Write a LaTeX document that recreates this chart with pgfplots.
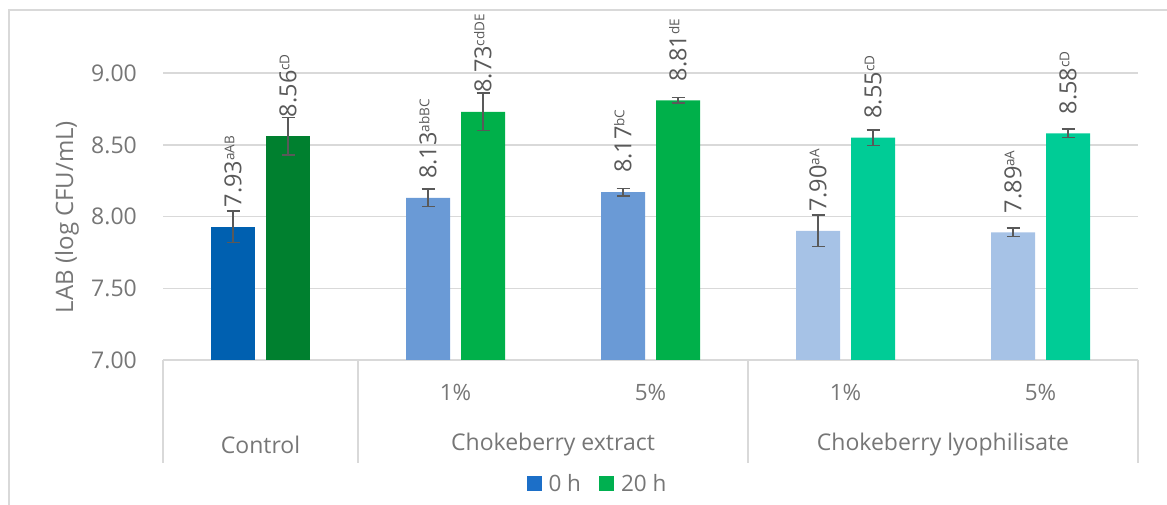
\documentclass[border=0pt]{standalone}
\usepackage{fontspec}
\setmainfont{Open Sans}
\usepackage{pgfplots}
\usepackage{pgfplotstable}
\pgfplotsset{compat=1.18}
\definecolor{cA0}{HTML}{0060B0}
\definecolor{cA2}{HTML}{00802F}
\definecolor{cB0}{HTML}{6A9AD6}
\definecolor{cB2}{HTML}{00B04A}
\definecolor{cC0}{HTML}{A6C2E6}
\definecolor{cC2}{HTML}{00CC96}
\definecolor{leg0}{HTML}{1C6FC8}
\definecolor{leg2}{HTML}{00B050}
\definecolor{gridgray}{HTML}{D9D9D9}
\definecolor{tickgray}{HTML}{767676}
\definecolor{labgray}{HTML}{595959}
\pgfplotsset{area legend/.style={legend image code/.code={\fill[##1] (0pt,-7.5pt) rectangle (15pt,7.5pt);}}}

\pgfplotstableread{
x y e s
0.5 7.93 0.11 aAB
}\tA
\pgfplotstableread{
x y e s
1.5 8.13 0.06 abBC
2.5 8.17 0.025 bC
}\tB
\pgfplotstableread{
x y e s
3.5 7.90 0.11 aA
4.5 7.89 0.03 aA
}\tC
\pgfplotstableread{
x y e s
0.5 8.56 0.13 cD
}\uA
\pgfplotstableread{
x y e s
1.5 8.73 0.13 cdDE
2.5 8.81 0.02 dE
}\uB
\pgfplotstableread{
x y e s
3.5 8.55 0.055 cD
4.5 8.58 0.03 cD
}\uC

\begin{document}
\begin{tikzpicture}
\path[use as bounding box] (0pt,0pt) rectangle (1167pt,505pt);
\draw[gridgray, line width=1.2pt] (9pt,-10pt) -- (9pt,495pt) -- (1180pt,495pt);
\begin{axis}[
  at={(163pt,145pt)}, anchor=south west,
  scale only axis, width=975pt, height=350pt,
  xmin=0, xmax=5, ymin=7, ymax=9.44,
  clip=false,
  axis line style={draw=none},
  major tick length=0pt,
  ytick={7,7.5,8,8.5,9},
  ymajorgrids,
  grid style={draw=gridgray, line width=1.5pt},
  yticklabel style={font=\fontsize{23}{27}\selectfont, text=tickgray, inner sep=0pt, xshift=-26pt, /pgf/number format/.cd, fixed, fixed zerofill, precision=2, assume math mode=true},
  xtick={1.5,2.5,3.5,4.5},
  xticklabels={1\%,5\%,1\%,5\%},
  xticklabel style={font=\fontsize{22.5}{26}\selectfont, text=tickgray, anchor=center, yshift=-32pt},
  every axis y label/.style={at={(axis description cs:-0.0985,0.4086)}, rotate=90, anchor=center, font=\fontsize{24}{28}\selectfont, text=tickgray},
  ylabel={LAB (log CFU/mL)},
  ybar, bar width=44pt,
  point meta=explicit symbolic,
  visualization depends on={rawy \as \rawy},
  nodes near coords={\pgfmathprintnumber[fixed,fixed zerofill,precision=2,assume math mode=true]{\rawy}\raisebox{7pt}{\fontsize{13.5}{15}\selectfont\pgfplotspointmeta}},
  every node near coord/.append style={yshift=19pt, rotate=90, anchor=west, inner sep=0pt, font=\fontsize{23.5}{27}\selectfont, text=labgray},
  error bars/y dir=both, error bars/y explicit,
  error bars/error bar style={line width=1.6pt, draw=labgray},
  error bars/error mark options={rotate=90, mark size=6.5pt, line width=1.6pt, draw=labgray},
  legend style={at={(0.4456,-0.354)}, anchor=center, draw=none, fill=none, inner sep=0pt, legend columns=2, font=\fontsize{22.5}{26}\selectfont, text=tickgray, /tikz/every odd column/.append style={column sep=5pt}, /tikz/every even column/.append style={column sep=16pt}},
]
\addplot[fill=cA0, draw=none, bar shift=-27.5pt, forget plot] table[x=x, y=y, y error=e, meta=s] {\tA};
\addplot[fill=cB0, draw=none, bar shift=-27.5pt, forget plot] table[x=x, y=y, y error=e, meta=s] {\tB};
\addplot[fill=cC0, draw=none, bar shift=-27.5pt, forget plot] table[x=x, y=y, y error=e, meta=s] {\tC};
\addplot[fill=cA2, draw=none, bar shift=27.5pt, forget plot] table[x=x, y=y, y error=e, meta=s] {\uA};
\addplot[fill=cB2, draw=none, bar shift=27.5pt, forget plot] table[x=x, y=y, y error=e, meta=s] {\uB};
\addplot[fill=cC2, draw=none, bar shift=27.5pt, forget plot] table[x=x, y=y, y error=e, meta=s] {\uC};
\addlegendimage{area legend, fill=leg0, draw=none}
\addlegendentry{0 h}
\addlegendimage{area legend, fill=leg2, draw=none}
\addlegendentry{20 h}
\end{axis}
\begin{scope}[gridgray, line width=1.5pt]
\draw (163pt,145pt) -- (163pt,42pt);
\draw (358pt,145pt) -- (358pt,42pt);
\draw (748pt,145pt) -- (748pt,42pt);
\draw (1138pt,145pt) -- (1138pt,42pt);
\end{scope}
\begin{scope}[every node/.style={font=\fontsize{23}{27}\selectfont, text=tickgray}]
\node at (260.5pt,60pt) {Control};
\node at (553pt,60pt) {Chokeberry extract};
\node at (943pt,60pt) {Chokeberry lyophilisate};
\end{scope}
\end{tikzpicture}
\end{document}
